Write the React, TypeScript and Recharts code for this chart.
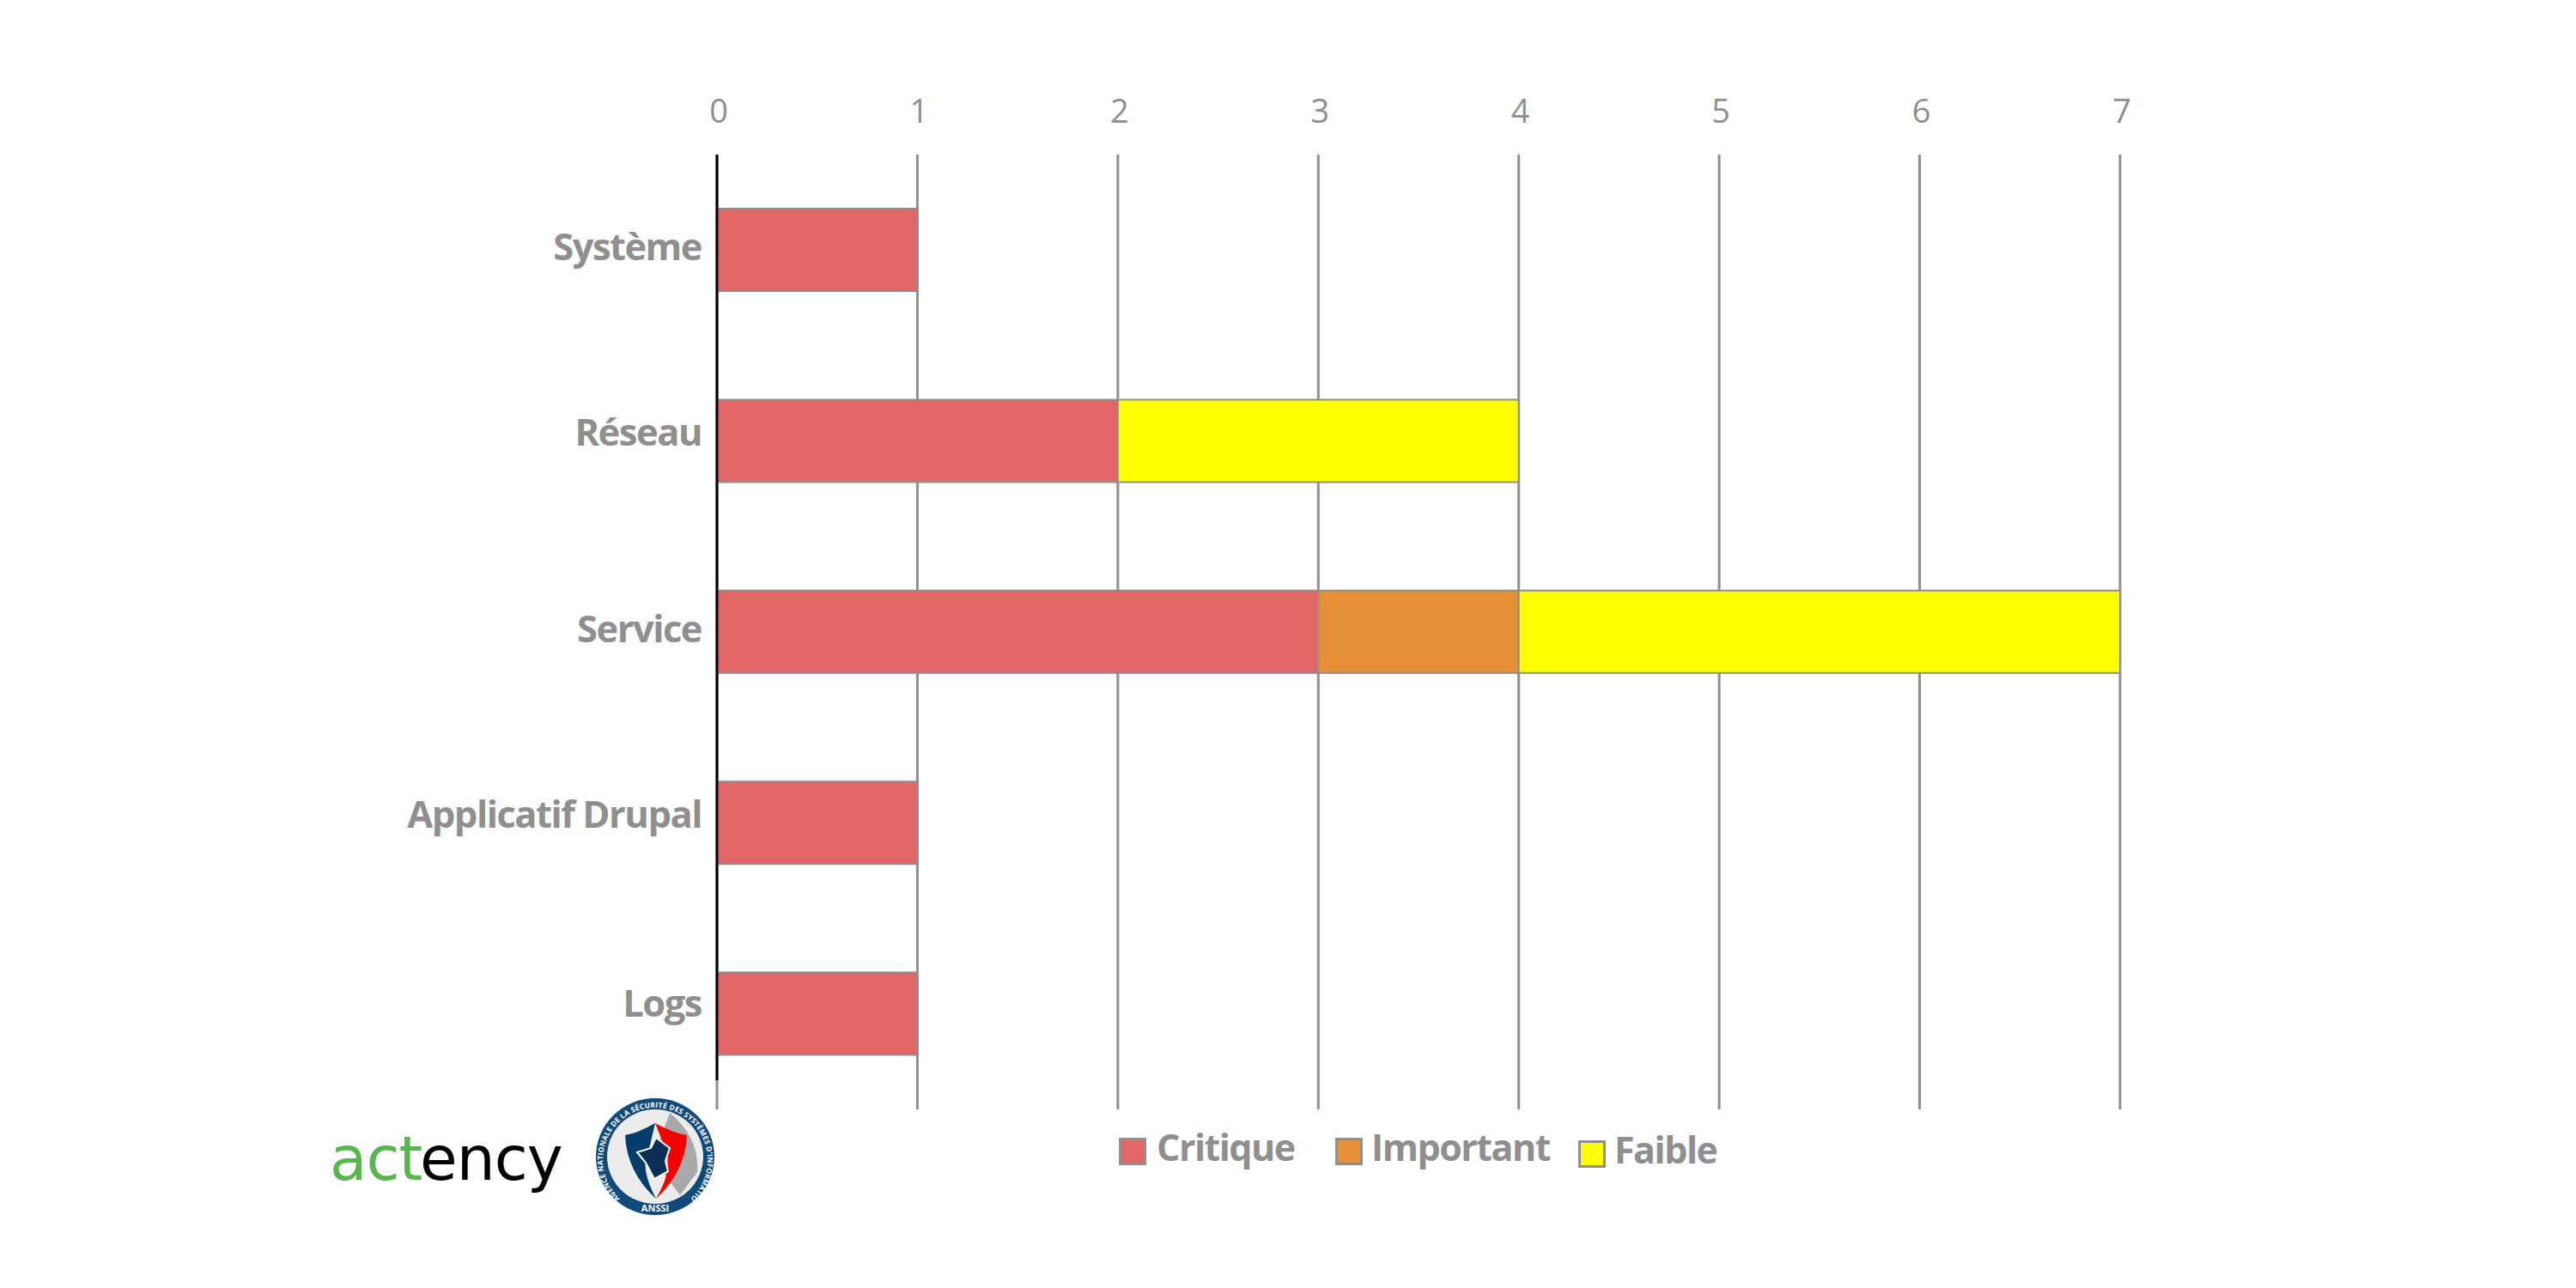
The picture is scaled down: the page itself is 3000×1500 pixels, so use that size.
import React from 'react';
import { BarChart, Bar, XAxis, YAxis, CartesianGrid, ReferenceLine } from 'recharts';

const categories = ['Système', 'Réseau', 'Service', 'Applicatif Drupal', 'Logs'];
const critique = [1, 2, 3, 1, 1];
const important = [0, 0, 1, 0, 0];
const faible = [0, 2, 3, 0, 0];
const valueTicks = [0, 1, 2, 3, 4, 5, 6, 7];
// the labels in the original are not quite centred on their bars
const labelNudge = [-3, -10, -3, -10, -12];

const data = categories.map((name, i) => ({
  name,
  Critique: critique[i],
  Important: important[i],
  Faible: faible[i],
}));

const GREY = '#8f8f8f';
const FONT = '"Open Sans", sans-serif';

const legendItems = [
  { label: 'Critique', color: '#e16767', left: 1303, top: 1325, textLeft: 1347 },
  { label: 'Important', color: '#e59037', left: 1555, top: 1325, textLeft: 1597 },
  { label: 'Faible', color: '#ffff00', left: 1838, top: 1328, textLeft: 1880 },
];

function ChartLegend() {
  return (
    <div style={{ position: 'absolute', left: 0, top: 0, width: 3000, height: 1500, pointerEvents: 'none' }}>
      {legendItems.map((item) => (
        <React.Fragment key={item.label}>
          <div
            style={{
              position: 'absolute',
              left: item.left,
              top: item.top,
              width: 32,
              height: 32,
              boxSizing: 'border-box',
              background: item.color,
              border: `3px solid ${GREY}`,
            }}
          />
          <div
            style={{
              position: 'absolute',
              left: item.textLeft,
              top: item.top - 18,
              fontFamily: FONT,
              fontWeight: 700,
              fontSize: 43,
              lineHeight: '58px',
              letterSpacing: -1.5,
              color: GREY,
            }}
          >
            {item.label}
          </div>
        </React.Fragment>
      ))}
    </div>
  );
}

// black axis stops short of the grey grid lines at the bottom
function ZeroLine(props: any) {
  return <line x1={props.x1} x2={props.x2} y1={props.y1} y2={props.y2 - 34} stroke="#000" strokeWidth={3} />;
}

function CategoryTick({ x, y, payload, index }: any) {
  return (
    <text
      x={x + 6}
      y={y + labelNudge[index]}
      dy="0.35em"
      textAnchor="end"
      fill={GREY}
      fontSize={43.5}
      fontWeight={700}
      fontFamily={FONT}
      letterSpacing={-1.5}
    >
      {payload.value}
    </text>
  );
}

function Logos() {
  return (
    <svg width={3000} height={1500} style={{ position: 'absolute', left: 0, top: 0, pointerEvents: 'none' }}>
      <text x={384} y={1374} fill="#5bb54f" fontFamily="'DejaVu Sans', sans-serif" fontSize={71} letterSpacing={-1}>
        act
      </text>
      <text x={489} y={1374} fill="#000" fontFamily="'DejaVu Sans', sans-serif" fontSize={71} letterSpacing={-1}>
        ency
      </text>
      <g transform="translate(763 1347)">
        <defs>
          <path id="sealRing" d="M -41 49 A 61 61 0 1 1 41 49" />
        </defs>
        <ellipse rx={69} ry={68} fill="#0f4a78" />
        <ellipse rx={56} ry={55} fill="#ececec" />
        <path d="M 17 -51 Q 52 -22 49 18 L 29 45 Q 9 18 -3 3 Z" fill="#a9a9a9" />
        <path d="M 0 -39 Q -21 -27 -35 -25 Q -33 18 1 49 Q -18 13 -8 -5 Z" fill="#033d6b" />
        <path d="M 0 -39 Q 22 -27 37 -25 Q 35 18 1 49 Q 22 13 12 -9 Z" fill="#f40000" />
        <path d="M 1 -22 L 17 -10 L 12 5 L 15 17 L -1 26 L -11 7 L -21 -5 L -5 -10 Z" fill="#0a2f55" stroke="#fff" strokeWidth={2} />
        <text fontSize={8.5} fontFamily={FONT} fontWeight={700} fill="#fff">
          <textPath href="#sealRing" textLength={300} lengthAdjust="spacing">
            AGENCE NATIONALE DE LA SÉCURITÉ DES SYSTÈMES D'INFORMATION
          </textPath>
        </text>
        <text y={64} textAnchor="middle" fontSize={11} fontFamily={FONT} fontWeight={700} fill="#fff">
          ANSSI
        </text>
      </g>
    </svg>
  );
}

export default function App() {
  return (
    <div style={{ position: 'absolute', left: 0, top: 0, width: 3000, height: 1500, background: '#fff' }}>
      <BarChart
        width={3000}
        height={1500}
        data={data}
        layout="vertical"
        margin={{ top: 100, right: 531, bottom: 208, left: 0 }}
        barSize={96}
      >
        <CartesianGrid horizontal={false} stroke={GREY} strokeWidth={3} />
        <XAxis
          type="number"
          orientation="top"
          domain={[0, 7]}
          ticks={valueTicks}
          height={80}
          axisLine={false}
          tickLine={false}
          tickMargin={31}
          tick={{ fill: GREY, fontSize: 38, fontFamily: FONT, dx: 2 }}
        />
        <YAxis
          type="category"
          dataKey="name"
          width={835}
          axisLine={false}
          tickLine={false}
          tickMargin={18}
          tick={CategoryTick}
        />
        <Bar dataKey="Critique" stackId="a" fill="#e16767" stroke={GREY} strokeWidth={2} isAnimationActive={false} />
        <Bar dataKey="Important" stackId="a" fill="#e59037" stroke={GREY} strokeWidth={2} isAnimationActive={false} />
        <Bar dataKey="Faible" stackId="a" fill="#ffff00" stroke={GREY} strokeWidth={2} isAnimationActive={false} />
        <ReferenceLine x={0} shape={ZeroLine} />
      </BarChart>
      <ChartLegend />
      <Logos />
    </div>
  );
}
